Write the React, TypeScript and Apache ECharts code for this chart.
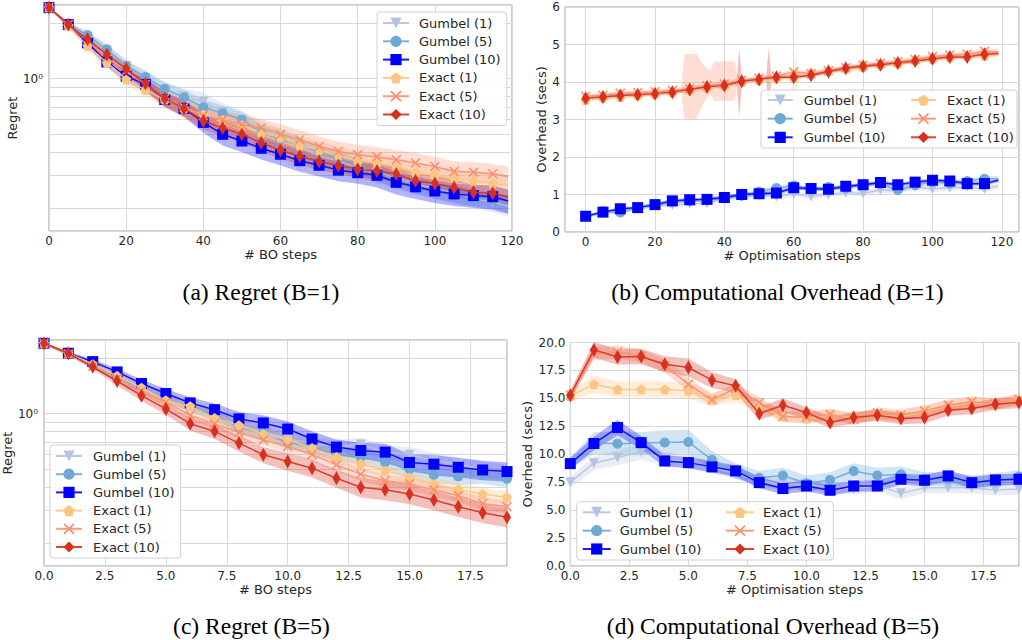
import React, { useEffect, useRef } from "react";
import * as echarts from "echarts";

// ---------------- data ----------------
const stepsB1 = [0, 5, 10, 15, 20, 25, 30, 35, 40, 45, 50, 55, 60, 65, 70, 75, 80, 85, 90, 95, 100, 105, 110, 115, 119];
const stepsB5 = [0, 1, 2, 3, 4, 5, 6, 7, 8, 9, 10, 11, 12, 13, 14, 15, 16, 17, 18, 19];

const seriesNames = ["Gumbel (1)", "Gumbel (5)", "Gumbel (10)", "Exact (1)", "Exact (5)", "Exact (10)"];
const regretMinorGrid = [0.2, 0.3, 0.4, 0.5, 0.6, 0.7, 0.8, 0.9, 2];

// (a) Regret, B=1 (means, relative spread)
const regretB1Gumbel1 = [2.42, 1.95, 1.68, 1.42, 1.17, 1.0, 0.87, 0.8, 0.75, 0.66, 0.6, 0.52, 0.48, 0.43, 0.38, 0.36, 0.33, 0.31, 0.29, 0.27, 0.255, 0.24, 0.225, 0.215, 0.205];
const regretB1Gumbel5 = [2.42, 1.96, 1.72, 1.44, 1.17, 1.02, 0.88, 0.79, 0.7, 0.65, 0.6, 0.51, 0.47, 0.435, 0.4, 0.372, 0.335, 0.31, 0.285, 0.265, 0.25, 0.238, 0.226, 0.221, 0.21];
const regretB1Gumbel10 = [2.42, 1.96, 1.56, 1.23, 1.03, 0.93, 0.77, 0.69, 0.58, 0.5, 0.46, 0.42, 0.39, 0.36, 0.34, 0.32, 0.31, 0.3, 0.275, 0.26, 0.247, 0.238, 0.233, 0.23, 0.218];
const regretB1Exact1 = [2.42, 1.93, 1.5, 1.22, 0.99, 0.87, 0.77, 0.69, 0.64, 0.6, 0.56, 0.51, 0.48, 0.435, 0.41, 0.385, 0.36, 0.35, 0.335, 0.312, 0.3, 0.29, 0.28, 0.271, 0.266];
const regretB1Exact5 = [2.42, 1.96, 1.6, 1.3, 1.1, 0.93, 0.78, 0.7, 0.63, 0.6, 0.565, 0.54, 0.5, 0.467, 0.43, 0.404, 0.388, 0.377, 0.364, 0.35, 0.335, 0.315, 0.312, 0.306, 0.296];
const regretB1Exact10 = [2.42, 1.96, 1.63, 1.35, 1.13, 0.94, 0.78, 0.69, 0.59, 0.54, 0.5, 0.45, 0.41, 0.38, 0.356, 0.339, 0.324, 0.317, 0.305, 0.28, 0.271, 0.258, 0.243, 0.24, 0.23];
const regretB1Gumbel1Spread = [0.01, 0.03, 0.05, 0.07, 0.08, 0.09, 0.1, 0.11, 0.12, 0.12, 0.12, 0.12, 0.12, 0.12, 0.12, 0.12, 0.12, 0.12, 0.12, 0.12, 0.12, 0.12, 0.12, 0.12, 0.12];
const regretB1Gumbel5Spread = [0.01, 0.03, 0.05, 0.06, 0.07, 0.08, 0.09, 0.1, 0.1, 0.1, 0.1, 0.1, 0.1, 0.1, 0.1, 0.1, 0.1, 0.1, 0.1, 0.1, 0.1, 0.1, 0.1, 0.1, 0.1];
const regretB1Gumbel10Spread = [0.01, 0.03, 0.05, 0.06, 0.07, 0.08, 0.09, 0.1, 0.12, 0.13, 0.13, 0.13, 0.13, 0.13, 0.13, 0.13, 0.13, 0.14, 0.14, 0.14, 0.14, 0.14, 0.14, 0.15, 0.15];
const regretB1Exact1Spread = [0.01, 0.03, 0.05, 0.06, 0.07, 0.08, 0.09, 0.1, 0.1, 0.11, 0.11, 0.12, 0.12, 0.12, 0.12, 0.12, 0.12, 0.12, 0.12, 0.12, 0.12, 0.12, 0.12, 0.12, 0.12];
const regretB1Exact5Spread = [0.01, 0.03, 0.05, 0.06, 0.07, 0.08, 0.09, 0.1, 0.1, 0.11, 0.12, 0.12, 0.13, 0.13, 0.13, 0.13, 0.13, 0.13, 0.13, 0.13, 0.13, 0.13, 0.13, 0.13, 0.13];
const regretB1Exact10Spread = [0.01, 0.03, 0.05, 0.06, 0.07, 0.08, 0.09, 0.1, 0.1, 0.1, 0.1, 0.1, 0.1, 0.1, 0.1, 0.1, 0.1, 0.1, 0.1, 0.1, 0.1, 0.1, 0.1, 0.1, 0.1];

// (b) Overhead, B=1 (means, absolute spread)
const overheadB1Gumbel1 = [0.42, 0.5, 0.58, 0.62, 0.7, 0.72, 0.75, 0.77, 0.88, 0.93, 0.98, 0.95, 1.02, 0.95, 1.0, 1.05, 1.03, 1.12, 1.1, 1.2, 1.15, 1.18, 1.2, 1.15, 1.23];
const overheadB1Gumbel5 = [0.42, 0.55, 0.52, 0.65, 0.72, 0.8, 0.83, 0.88, 0.93, 0.97, 1.07, 1.17, 1.24, 1.13, 1.2, 1.17, 1.27, 1.28, 1.12, 1.25, 1.33, 1.3, 1.36, 1.42, 1.42];
const overheadB1Gumbel10 = [0.42, 0.53, 0.62, 0.65, 0.73, 0.83, 0.86, 0.87, 0.92, 1.0, 1.02, 1.04, 1.18, 1.16, 1.14, 1.22, 1.26, 1.32, 1.26, 1.33, 1.38, 1.36, 1.29, 1.29, 1.38];
const overheadB1Exact1 = [3.52, 3.58, 3.6, 3.65, 3.68, 3.72, 3.78, 3.85, 3.9, 4.0, 4.05, 4.1, 4.12, 4.25, 4.3, 4.36, 4.4, 4.46, 4.5, 4.58, 4.62, 4.66, 4.7, 4.7, 4.75];
const overheadB1Exact5 = [3.62, 3.65, 3.7, 3.72, 3.74, 3.78, 3.82, 3.9, 3.95, 4.05, 4.1, 4.16, 4.27, 4.22, 4.3, 4.38, 4.45, 4.5, 4.54, 4.6, 4.68, 4.72, 4.74, 4.82, 4.8];
const overheadB1Exact10 = [3.57, 3.6, 3.64, 3.66, 3.69, 3.73, 3.8, 3.87, 3.91, 4.02, 4.07, 4.13, 4.13, 4.18, 4.28, 4.37, 4.42, 4.46, 4.51, 4.56, 4.62, 4.67, 4.67, 4.74, 4.76];
const overheadB1Gumbel1Spread = [0.03, 0.04, 0.05, 0.05, 0.05, 0.06, 0.06, 0.06, 0.06, 0.06, 0.07, 0.07, 0.07, 0.07, 0.07, 0.07, 0.07, 0.08, 0.08, 0.08, 0.08, 0.08, 0.08, 0.08, 0.08];
const overheadB1Gumbel5Spread = [0.03, 0.04, 0.04, 0.05, 0.05, 0.05, 0.05, 0.05, 0.06, 0.06, 0.06, 0.06, 0.06, 0.06, 0.06, 0.06, 0.06, 0.06, 0.07, 0.07, 0.07, 0.07, 0.07, 0.07, 0.07];
const overheadB1Gumbel10Spread = [0.03, 0.04, 0.04, 0.04, 0.05, 0.05, 0.05, 0.05, 0.05, 0.05, 0.05, 0.05, 0.05, 0.05, 0.05, 0.05, 0.05, 0.05, 0.05, 0.05, 0.05, 0.05, 0.05, 0.05, 0.05];
const overheadB1Exact1Spread = [0.06, 0.06, 0.06, 0.06, 0.08, 0.06, 0.06, 0.06, 0.06, 0.06, 0.06, 0.06, 0.07, 0.07, 0.07, 0.07, 0.07, 0.07, 0.07, 0.07, 0.07, 0.07, 0.07, 0.08, 0.08];
const overheadB1Exact5Spread = [0.06, 0.06, 0.06, 0.06, 0.06, 0.06, 0.06, 0.06, 0.06, 0.06, 0.06, 0.06, 0.07, 0.07, 0.07, 0.07, 0.07, 0.07, 0.07, 0.07, 0.07, 0.07, 0.08, 0.08, 0.08];
const overheadB1Exact10Spread = [0.05, 0.05, 0.05, 0.05, 0.05, 0.05, 0.05, 0.05, 0.05, 0.05, 0.05, 0.05, 0.05, 0.05, 0.05, 0.05, 0.05, 0.05, 0.05, 0.05, 0.05, 0.05, 0.05, 0.05, 0.05];
// (b) isolated wide uncertainty patches
const overheadB1Exact5WideSteps = [27.5, 28.5, 32, 34, 36, 37, 43, 43.8];
const overheadB1Exact5WideLow = [3.78, 3.0, 3.0, 3.45, 3.7, 3.5, 3.5, 3.98];
const overheadB1Exact5WideHigh = [3.85, 4.75, 4.75, 4.45, 4.3, 4.55, 4.55, 4.08];
const overheadB1Exact10SpikeSteps = [43.5, 44.3, 45.1, 52, 52.8, 53.6];
const overheadB1Exact10SpikeLow = [3.98, 3.07, 4.0, 4.06, 3.25, 4.1];
const overheadB1Exact10SpikeHigh = [4.02, 4.9, 4.04, 4.1, 4.92, 4.14];
const overheadB1Exact1SpikeSteps = [60, 60.8, 61.6];
const overheadB1Exact1SpikeLow = [4.1, 3.72, 4.15];
const overheadB1Exact1SpikeHigh = [4.14, 4.85, 4.19];

// (c) Regret, B=5
const regretB5Gumbel1 = [2.4, 2.08, 1.85, 1.52, 1.35, 1.2, 1.1, 0.98, 0.86, 0.8, 0.73, 0.69, 0.66, 0.68, 0.62, 0.6, 0.56, 0.53, 0.5, 0.48];
const regretB5Gumbel5 = [2.4, 2.1, 1.85, 1.55, 1.38, 1.2, 1.1, 0.98, 0.84, 0.785, 0.7, 0.66, 0.6, 0.58, 0.546, 0.5, 0.466, 0.457, 0.464, 0.444];
const regretB5Gumbel10 = [2.4, 2.12, 1.91, 1.68, 1.455, 1.284, 1.143, 1.05, 0.936, 0.89, 0.825, 0.729, 0.659, 0.632, 0.619, 0.544, 0.533, 0.513, 0.496, 0.486];
const regretB5Exact1 = [2.4, 2.12, 1.85, 1.6, 1.38, 1.18, 1.096, 0.947, 0.864, 0.776, 0.723, 0.651, 0.582, 0.535, 0.492, 0.451, 0.415, 0.39, 0.368, 0.353];
const regretB5Exact5 = [2.4, 2.1, 1.8, 1.55, 1.33, 1.15, 0.98, 0.88, 0.79, 0.72, 0.665, 0.6, 0.528, 0.47, 0.434, 0.417, 0.387, 0.36, 0.327, 0.314];
const regretB5Exact10 = [2.4, 2.12, 1.79, 1.5, 1.25, 1.06, 0.882, 0.802, 0.693, 0.599, 0.551, 0.507, 0.447, 0.4, 0.387, 0.368, 0.341, 0.314, 0.291, 0.275];
const regretB5Gumbel1Spread = [0.01, 0.02, 0.03, 0.04, 0.05, 0.05, 0.06, 0.06, 0.07, 0.07, 0.08, 0.08, 0.09, 0.09, 0.09, 0.1, 0.1, 0.1, 0.1, 0.1];
const regretB5Gumbel5Spread = [0.01, 0.02, 0.03, 0.04, 0.05, 0.05, 0.06, 0.06, 0.07, 0.07, 0.08, 0.08, 0.08, 0.09, 0.09, 0.09, 0.1, 0.1, 0.1, 0.1];
const regretB5Gumbel10Spread = [0.01, 0.02, 0.03, 0.04, 0.05, 0.06, 0.07, 0.08, 0.09, 0.1, 0.1, 0.1, 0.1, 0.1, 0.11, 0.11, 0.12, 0.12, 0.12, 0.12];
const regretB5Exact1Spread = [0.01, 0.02, 0.03, 0.04, 0.05, 0.05, 0.06, 0.06, 0.07, 0.07, 0.07, 0.08, 0.08, 0.08, 0.08, 0.08, 0.08, 0.08, 0.08, 0.08];
const regretB5Exact5Spread = [0.01, 0.02, 0.03, 0.04, 0.05, 0.05, 0.06, 0.06, 0.07, 0.07, 0.07, 0.08, 0.08, 0.08, 0.08, 0.08, 0.08, 0.08, 0.08, 0.08];
const regretB5Exact10Spread = [0.01, 0.02, 0.03, 0.05, 0.06, 0.07, 0.08, 0.09, 0.1, 0.1, 0.11, 0.11, 0.11, 0.12, 0.12, 0.12, 0.12, 0.12, 0.12, 0.12];

// (d) Overhead, B=5
const overheadB5Gumbel1 = [7.5, 9.2, 9.7, 10.2, 9.6, 9.3, 8.8, 8.3, 7.6, 7.3, 7.3, 7.0, 6.9, 7.2, 6.5, 7.0, 7.0, 7.0, 6.8, 6.9];
const overheadB5Gumbel5 = [9.2, 11.0, 10.95, 11.0, 11.05, 11.1, 9.5, 8.5, 7.9, 8.1, 7.4, 7.7, 8.5, 8.1, 8.2, 7.8, 7.8, 7.5, 7.7, 8.0];
const overheadB5Gumbel10 = [9.16, 10.96, 12.39, 11.04, 9.4, 9.25, 8.87, 8.51, 7.46, 6.93, 7.16, 6.78, 7.16, 7.16, 7.76, 7.67, 8.06, 7.46, 7.7, 7.76];
const overheadB5Exact1 = [15.2, 16.27, 15.82, 15.8, 15.8, 15.7, 14.9, 15.3, 14.3, 13.4, 13.2, 13.5, 13.3, 13.5, 13.4, 13.8, 14.3, 14.6, 14.5, 14.9];
const overheadB5Exact5 = [15.3, 19.04, 19.16, 18.8, 17.9, 16.27, 14.87, 15.88, 14.63, 13.37, 13.3, 13.58, 13.1, 13.7, 13.5, 13.9, 14.4, 14.7, 14.5, 14.9];
const overheadB5Exact10 = [15.28, 19.34, 18.7, 18.75, 18.06, 17.76, 16.63, 16.12, 13.64, 14.39, 13.73, 12.84, 13.28, 13.49, 13.19, 13.28, 13.94, 14.09, 14.48, 14.63];
const overheadB5Gumbel1Spread = [0.5, 0.6, 0.7, 0.7, 0.6, 0.6, 0.5, 0.5, 0.5, 0.5, 0.5, 0.5, 0.5, 0.5, 0.5, 0.5, 0.5, 0.5, 0.5, 0.5];
const overheadB5Gumbel5Spread = [0.5, 1.0, 1.0, 1.0, 1.1, 1.1, 0.8, 0.7, 0.6, 0.7, 0.7, 0.7, 0.7, 0.7, 0.7, 0.6, 0.6, 0.6, 0.6, 0.6];
const overheadB5Gumbel10Spread = [0.5, 0.6, 0.7, 0.6, 0.5, 0.5, 0.5, 0.5, 0.5, 0.5, 0.5, 0.5, 0.5, 0.5, 0.5, 0.5, 0.5, 0.5, 0.5, 0.5];
const overheadB5Exact1Spread = [0.4, 0.8, 0.7, 0.7, 0.7, 0.7, 0.6, 0.6, 0.6, 0.5, 0.5, 0.5, 0.5, 0.5, 0.5, 0.5, 0.5, 0.5, 0.5, 0.5];
const overheadB5Exact5Spread = [0.4, 0.6, 0.6, 0.6, 0.6, 0.6, 0.5, 0.5, 0.5, 0.5, 0.5, 0.5, 0.5, 0.5, 0.5, 0.5, 0.5, 0.5, 0.5, 0.5];
const overheadB5Exact10Spread = [0.4, 0.7, 0.7, 0.7, 0.7, 0.8, 0.7, 0.6, 0.6, 0.6, 0.5, 0.5, 0.5, 0.5, 0.5, 0.5, 0.5, 0.5, 0.5, 0.5];

// ---------------- styles ----------------
const FONT = '"DejaVu Sans", sans-serif';
const SERIF = '"Liberation Serif", "Times New Roman", serif';
const TEXT = "#262626";
const GRIDLINE = "#d9d9d9";
const FRAME = "#9a9a9a";
const COLORS = ["#b6c3e0", "#6ea8d3", "#0000ff", "#fdc582", "#f8906f", "#d7301f"];
const TRI_DOWN = "path://M0,0 L12,0 L6,11 Z";
const PENTAGON = "path://M50,0 L97.6,34.5 L79.4,90.5 L20.6,90.5 L2.4,34.5 Z";
const XMARK = "path://M0,2.2 L2.2,0 L10,7.8 L17.8,0 L20,2.2 L12.2,10 L20,17.8 L17.8,20 L10,12.2 L2.2,20 L0,17.8 L7.8,10 Z";
const SYMBOLS = [TRI_DOWN, "circle", "rect", PENTAGON, XMARK, "diamond"];
const SYMBOL_SIZES: any[] = [10, 10, 11, 10, 10, [8, 14]];

function bandSeries(grid: number, xs: number[], lo: number[], hi: number[], color: string, extra?: any) {
  return {
    type: "custom", xAxisIndex: grid, yAxisIndex: grid, silent: true, z: 1, clip: true,
    data: xs.map((x, i) => [x, lo[i], hi[i]]),
    encode: { x: 0, y: [1, 2] },
    renderItem: (params: any, api: any) => {
      if (params.dataIndex !== 0) return null;
      const top = xs.map((x, i) => api.coord([x, hi[i]]));
      const bottom = xs.map((x, i) => api.coord([x, lo[i]])).reverse();
      return {
        type: "polygon", shape: { points: top.concat(bottom) },
        style: { fill: color, opacity: 0.3 },
      };
    },
    ...(extra || {}),
  };
}

function panelSeries(grid: number, xs: number[], means: number[][], spreads: number[][], relative: boolean, lastPlain: boolean, minorGrid?: number[]) {
  const out: any[] = [];
  means.forEach((m, k) => {
    const s = spreads[k];
    const lo = m.map((v, i) => (relative ? v * (1 - s[i]) : v - s[i]));
    const hi = m.map((v, i) => (relative ? v * (1 + s[i]) : v + s[i]));
    const extra = k === 0 && minorGrid ? {
      markLine: {
        silent: true, symbol: ["none", "none"], label: { show: false }, z: 0,
        lineStyle: { color: GRIDLINE, type: "solid", width: 1 },
        data: minorGrid.map((v) => ({ yAxis: v })), animation: false,
      },
    } : undefined;
    out.push(bandSeries(grid, xs, lo, hi, COLORS[k], extra));
  });
  means.forEach((m, k) => {
    out.push({
      type: "line", name: seriesNames[k], xAxisIndex: grid, yAxisIndex: grid,
      data: xs.map((x, i) => (lastPlain && i === xs.length - 1 ? { value: [x, m[i]], symbol: "none" } : [x, m[i]])),
      symbol: SYMBOLS[k], symbolSize: SYMBOL_SIZES[k], showSymbol: true, showAllSymbol: true,
      lineStyle: { color: COLORS[k], width: 1.5, opacity: 0.9 }, itemStyle: { color: COLORS[k] },
      z: 2 + k, silent: true,
    });
  });
  return out;
}

const tickLabel = { fontSize: 12, color: TEXT, fontFamily: FONT };
const nameStyle = { fontSize: 13, color: TEXT, fontFamily: FONT };

function makeXAxis(grid: number, min: number, max: number, name: string, fmt: (v: number) => string, extra: any) {
  return {
    type: "value", gridIndex: grid, min, max, name, nameLocation: "middle", nameGap: 16, nameTextStyle: nameStyle,
    axisLine: { show: false }, axisTick: { show: false },
    splitLine: { show: true, lineStyle: { color: GRIDLINE, width: 1 } },
    axisLabel: { ...tickLabel, margin: 4, formatter: fmt, showMinLabel: true, showMaxLabel: true },
    ...extra,
  };
}

function makeLegend(names: string[], left: number, top: number, itemWidth: number, itemGap: number, textPad: number, boxed: boolean) {
  return {
    show: true, orient: "vertical", left, top, itemWidth, itemHeight: 14, itemGap, selectedMode: false, z: 10,
    padding: boxed ? [4, 6, 4, 5] : 0,
    backgroundColor: boxed ? "rgba(255,255,255,0.85)" : "transparent",
    borderColor: boxed ? "#d0d0d0" : "transparent", borderWidth: boxed ? 1 : 0, borderRadius: 3,
    textStyle: { fontSize: 13, color: TEXT, fontFamily: FONT, padding: [0, 0, 0, textPad], lineHeight: 14 },
    data: names,
  };
}

export default function App() {
  const ref = useRef<HTMLDivElement>(null);
  useEffect(() => {
    if (!ref.current) return;
    const chart = echarts.init(ref.current, null, { renderer: "svg", width: 1022, height: 640 });
    const gridBase = { show: true, borderColor: FRAME, borderWidth: 1, backgroundColor: "#fff", containLabel: false };
    const logFmt = (v: number) => (Math.abs(v - 1) < 1e-9 ? "10\u2070" : "");
    const intFmt = (step: number) => (v: number) => (Math.abs(v / step - Math.round(v / step)) < 1e-9 ? String(Math.round(v)) : "");
    const decFmt = (v: number) => (Math.abs(v / 2.5 - Math.round(v / 2.5)) < 1e-9 ? v.toFixed(1) : "");

    const yLog = (grid: number, gap: number) => ({
      type: "log", logBase: 10, gridIndex: grid, min: 0.15, max: 2.5, name: "Regret", nameLocation: "middle",
      nameGap: gap, nameRotate: 90, nameTextStyle: nameStyle, axisLine: { show: false }, axisTick: { show: false },
      splitLine: { show: true, lineStyle: { color: GRIDLINE, width: 1 } },
      axisLabel: { ...tickLabel, margin: 6, formatter: logFmt },
    });
    const yLin = (grid: number, max: number, interval: number, gap: number, fmt: (v: number) => string) => ({
      type: "value", gridIndex: grid, min: 0, max, interval, name: "Overhead (secs)", nameLocation: "middle",
      nameGap: gap, nameRotate: 90, nameTextStyle: nameStyle, axisLine: { show: false }, axisTick: { show: false },
      splitLine: { show: true, lineStyle: { color: GRIDLINE, width: 1 } },
      axisLabel: { ...tickLabel, margin: 5, formatter: fmt },
    });

    const option: any = {
      animation: false,
      grid: [
        { ...gridBase, left: 49, top: 5, width: 463, height: 226 },
        { ...gridBase, left: 565, top: 7, width: 459, height: 225 },
        { ...gridBase, left: 44, top: 340, width: 463, height: 226 },
        { ...gridBase, left: 570.3, top: 342.5, width: 462, height: 223.5 },
      ],
      xAxis: [
        makeXAxis(0, 0, 120, "# BO steps", intFmt(20), { interval: 20 }),
        makeXAxis(1, -5.95, 124.95, "# Optimisation steps", (v: number) => (v >= 0 && v <= 120 ? intFmt(20)(v) : ""), { splitNumber: 6, minInterval: 20, maxInterval: 20 }),
        makeXAxis(2, 0, 19, "# BO steps", decFmt, { interval: 2.5, nameGap: 17 }),
        makeXAxis(3, 0, 19, "# Optimisation steps", decFmt, { interval: 2.5, nameGap: 17 }),
      ],
      yAxis: [
        yLog(0, 30),
        yLin(1, 6, 1, 16, (v: number) => String(v)),
        yLog(2, 29),
        yLin(3, 20, 2.5, 36, (v: number) => v.toFixed(1)),
      ],
      legend: [
        makeLegend(seriesNames, 377, 12, 26, 4.3, 5, true),
        makeLegend(seriesNames.slice(0, 3), 766.7, 93, 25, 4.65, 6, false),
        makeLegend(seriesNames.slice(3), 910, 93, 25, 4.65, 6, false),
        makeLegend(seriesNames, 50, 445, 26, 4.2, 6, true),
        makeLegend(seriesNames.slice(0, 3), 581.7, 505.3, 28, 4.35, 4, false),
        makeLegend(seriesNames.slice(3), 725, 505.3, 28, 4.35, 4, false),
      ],
      graphic: [
        { type: "rect", z: 9, shape: { x: 761, y: 90, width: 256, height: 58, r: 3 }, style: { fill: "rgba(255,255,255,0.85)", stroke: "#d0d0d0", lineWidth: 1 } },
        { type: "rect", z: 9, shape: { x: 576.7, y: 501.7, width: 256.6, height: 58.3, r: 3 }, style: { fill: "rgba(255,255,255,0.85)", stroke: "#d0d0d0", lineWidth: 1 } },
        ...[
          ["(a) Regret (B=1)", 261, 292],
          ["(b) Computational Overhead (B=1)", 777.5, 292],
          ["(c) Regret (B=5)", 251.5, 626],
          ["(d) Computational Overhead (B=5)", 773, 626],
        ].map(([t, x, y]) => ({
          type: "text", z: 10,
          style: { text: t, x, y, align: "center", verticalAlign: "middle", textAlign: "center", textVerticalAlign: "middle", fontSize: 23.5, fontFamily: SERIF, fill: "#000" },
        })),
      ],
      series: [
        ...panelSeries(0, stepsB1,
          [regretB1Gumbel1, regretB1Gumbel5, regretB1Gumbel10, regretB1Exact1, regretB1Exact5, regretB1Exact10],
          [regretB1Gumbel1Spread, regretB1Gumbel5Spread, regretB1Gumbel10Spread, regretB1Exact1Spread, regretB1Exact5Spread, regretB1Exact10Spread],
          true, true, regretMinorGrid),
        bandSeries(1, overheadB1Exact5WideSteps, overheadB1Exact5WideLow, overheadB1Exact5WideHigh, COLORS[4]),
        bandSeries(1, overheadB1Exact10SpikeSteps, overheadB1Exact10SpikeLow, overheadB1Exact10SpikeHigh, COLORS[5]),
        bandSeries(1, overheadB1Exact1SpikeSteps, overheadB1Exact1SpikeLow, overheadB1Exact1SpikeHigh, COLORS[3]),
        ...panelSeries(1, stepsB1,
          [overheadB1Gumbel1, overheadB1Gumbel5, overheadB1Gumbel10, overheadB1Exact1, overheadB1Exact5, overheadB1Exact10],
          [overheadB1Gumbel1Spread, overheadB1Gumbel5Spread, overheadB1Gumbel10Spread, overheadB1Exact1Spread, overheadB1Exact5Spread, overheadB1Exact10Spread],
          false, true),
        ...panelSeries(2, stepsB5,
          [regretB5Gumbel1, regretB5Gumbel5, regretB5Gumbel10, regretB5Exact1, regretB5Exact5, regretB5Exact10],
          [regretB5Gumbel1Spread, regretB5Gumbel5Spread, regretB5Gumbel10Spread, regretB5Exact1Spread, regretB5Exact5Spread, regretB5Exact10Spread],
          true, false, regretMinorGrid),
        ...panelSeries(3, stepsB5,
          [overheadB5Gumbel1, overheadB5Gumbel5, overheadB5Gumbel10, overheadB5Exact1, overheadB5Exact5, overheadB5Exact10],
          [overheadB5Gumbel1Spread, overheadB5Gumbel5Spread, overheadB5Gumbel10Spread, overheadB5Exact1Spread, overheadB5Exact5Spread, overheadB5Exact10Spread],
          false, false),
      ],
    };
    chart.setOption(option);
    return () => chart.dispose();
  }, []);
  return <div ref={ref} style={{ position: "absolute", left: 0, top: 0, width: 1022, height: 640, background: "#fff" }} />;
}
